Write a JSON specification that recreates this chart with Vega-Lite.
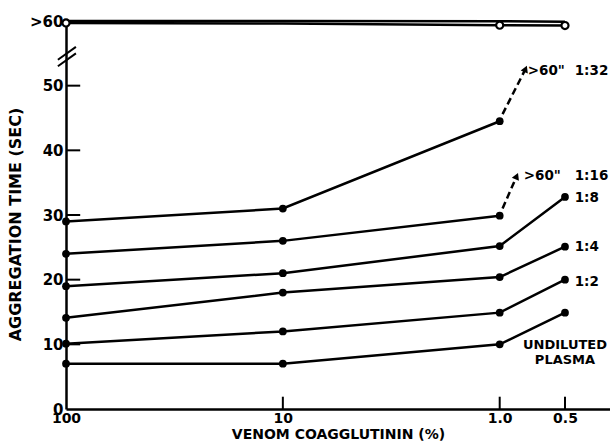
{
  "$schema": "https://vega.github.io/schema/vega-lite/v6.json",
  "width": 544,
  "height": 388,
  "autosize": {"type": "none"},
  "padding": {"left": 66, "top": 21, "right": 0, "bottom": 35},
  "background": "white",
  "config": {
    "view": {"stroke": null},
    "font": "DejaVu Sans",
    "axis": {
      "domainColor": "black",
      "domainWidth": 2.5,
      "ticks": false,
      "grid": false,
      "labelColor": "black",
      "titleColor": "black",
      "labelFont": "DejaVu Sans",
      "titleFont": "DejaVu Sans",
      "labelFontWeight": "bold",
      "titleFontWeight": "bold"
    }
  },
  "datasets": {
    "series": [
      {"s": "top1", "x": 100, "y": 60.0},
      {"s": "top1", "x": 10, "y": 60.0},
      {"s": "top1", "x": 1, "y": 59.95},
      {"s": "top1", "x": 0.5, "y": 59.9},
      {"s": "top2", "x": 100, "y": 59.7},
      {"s": "top2", "x": 10, "y": 59.6},
      {"s": "top2", "x": 1, "y": 59.35},
      {"s": "top2", "x": 0.5, "y": 59.3},
      {"s": "1:32", "x": 100, "y": 29},
      {"s": "1:32", "x": 10, "y": 31},
      {"s": "1:32", "x": 1, "y": 44.5},
      {"s": "1:16", "x": 100, "y": 24},
      {"s": "1:16", "x": 10, "y": 26},
      {"s": "1:16", "x": 1, "y": 29.9},
      {"s": "1:8", "x": 100, "y": 19},
      {"s": "1:8", "x": 10, "y": 21},
      {"s": "1:8", "x": 1, "y": 25.2},
      {"s": "1:8", "x": 0.5, "y": 32.8},
      {"s": "1:4", "x": 100, "y": 14.1},
      {"s": "1:4", "x": 10, "y": 18},
      {"s": "1:4", "x": 1, "y": 20.4},
      {"s": "1:4", "x": 0.5, "y": 25.1},
      {"s": "1:2", "x": 100, "y": 10.1},
      {"s": "1:2", "x": 10, "y": 12},
      {"s": "1:2", "x": 1, "y": 14.9},
      {"s": "1:2", "x": 0.5, "y": 20},
      {"s": "undiluted", "x": 100, "y": 7},
      {"s": "undiluted", "x": 10, "y": 7},
      {"s": "undiluted", "x": 1, "y": 10},
      {"s": "undiluted", "x": 0.5, "y": 14.9}
    ],
    "arrows": [
      {"s": "1:32", "x": 0.97, "y": 45.6},
      {"s": "1:32", "x": 0.765, "y": 52.4},
      {"s": "1:16", "x": 0.97, "y": 31.0},
      {"s": "1:16", "x": 0.84, "y": 35.8}
    ],
    "tips": [
      {"s": "1:32", "x": 0.76, "y": 52.6},
      {"s": "1:16", "x": 0.835, "y": 36.0}
    ],
    "labels": [
      {"x": 0.743, "y": 52.2, "text": ">60\""},
      {"x": 0.451, "y": 52.2, "text": "1:32"},
      {"x": 0.775, "y": 36.1, "text": ">60\""},
      {"x": 0.451, "y": 36.1, "text": "1:16"},
      {"x": 0.451, "y": 32.6, "text": "1:8"},
      {"x": 0.451, "y": 25.1, "text": "1:4"},
      {"x": 0.451, "y": 19.6, "text": "1:2"}
    ],
    "plasma": [
      {"x": 0.5, "y": 9.9, "text": "UNDILUTED"},
      {"x": 0.5, "y": 7.6, "text": "PLASMA"}
    ],
    "breaks": [
      {"k": "a", "x": 109, "y": 54.0, "x2": 90, "y2": 56.0},
      {"k": "b", "x": 109, "y": 53.0, "x2": 90, "y2": 55.0}
    ],
    "ticks": [
      {"k": "10", "x": 100, "x2": 86, "y": 10, "y2": 10},
      {"k": "20", "x": 100, "x2": 86, "y": 20, "y2": 20},
      {"k": "30", "x": 100, "x2": 86, "y": 30, "y2": 30},
      {"k": "40", "x": 100, "x2": 86, "y": 40, "y2": 40},
      {"k": "50", "x": 100, "x2": 86, "y": 50, "y2": 50},
      {"k": "a", "x": 10, "x2": 10, "y": 0, "y2": 1.9},
      {"k": "b", "x": 1, "x2": 1, "y": 0, "y2": 1.9},
      {"k": "c", "x": 0.5, "x2": 0.5, "y": 0, "y2": 1.9}
    ]
  },
  "encoding": {
    "x": {
      "field": "x",
      "type": "quantitative",
      "scale": {"type": "log", "domain": [100, 0.31]},
      "axis": {
        "title": "VENOM COAGGLUTININ (%)",
        "titleFontSize": 14,
        "titlePadding": 2,
        "values": [100, 10, 1, 0.5],
        "format": "~g",
        "labelExpr": "datum.value == 1 ? '1.0' : datum.label",
        "labelFontSize": 14,
        "labelPadding": 2,
        "labelFlush": false
      }
    },
    "y": {
      "field": "y",
      "type": "quantitative",
      "scale": {"domain": [0, 60], "nice": false},
      "axis": {
        "title": "AGGREGATION TIME (SEC)",
        "titleFontSize": 16,
        "titlePadding": 6,
        "titleY": 203,
        "values": [0, 10, 20, 30, 40, 50, 60],
        "labelExpr": "datum.value == 60 ? '>60' : datum.label",
        "labelFontSize": 15,
        "labelPadding": 3
      }
    }
  },
  "layer": [
    {
      "data": {"name": "ticks"},
      "mark": {"type": "rule", "color": "black", "strokeWidth": 2},
      "encoding": {
        "x2": {"field": "x2"},
        "y2": {"field": "y2"},
        "detail": {"field": "k"}
      }
    },
    {
      "data": {"name": "series"},
      "mark": {"type": "line", "color": "black", "strokeWidth": 2.5},
      "encoding": {"detail": {"field": "s"}}
    },
    {
      "data": {"name": "series"},
      "transform": [{"filter": "datum.s != 'top1' && datum.s != 'top2'"}],
      "mark": {"type": "point", "filled": true, "color": "black", "size": 60, "opacity": 1}
    },
    {
      "data": {"name": "series"},
      "transform": [{"filter": "datum.s == 'top2' && datum.x != 10"}],
      "mark": {"type": "point", "filled": true, "fill": "white", "stroke": "black", "strokeWidth": 2.2, "size": 50, "opacity": 1}
    },
    {
      "data": {"name": "arrows"},
      "mark": {"type": "line", "color": "black", "strokeWidth": 2.5, "strokeDash": [7, 4]},
      "encoding": {"detail": {"field": "s"}}
    },
    {
      "data": {"name": "tips"},
      "mark": {"type": "point", "shape": "triangle-up", "filled": true, "color": "black", "size": 60, "angle": 23, "opacity": 1}
    },
    {
      "data": {"name": "labels"},
      "mark": {"type": "text", "align": "left", "baseline": "middle", "fontSize": 13.5, "fontWeight": "bold", "color": "black"},
      "encoding": {"text": {"field": "text"}}
    },
    {
      "data": {"name": "plasma"},
      "mark": {"type": "text", "align": "center", "baseline": "middle", "fontSize": 13, "fontWeight": "bold", "color": "black"},
      "encoding": {"text": {"field": "text"}}
    },
    {
      "data": {"name": "breaks"},
      "mark": {"type": "rule", "color": "black", "strokeWidth": 2},
      "encoding": {
        "x2": {"field": "x2"},
        "y2": {"field": "y2"},
        "detail": {"field": "k"}
      }
    }
  ]
}
